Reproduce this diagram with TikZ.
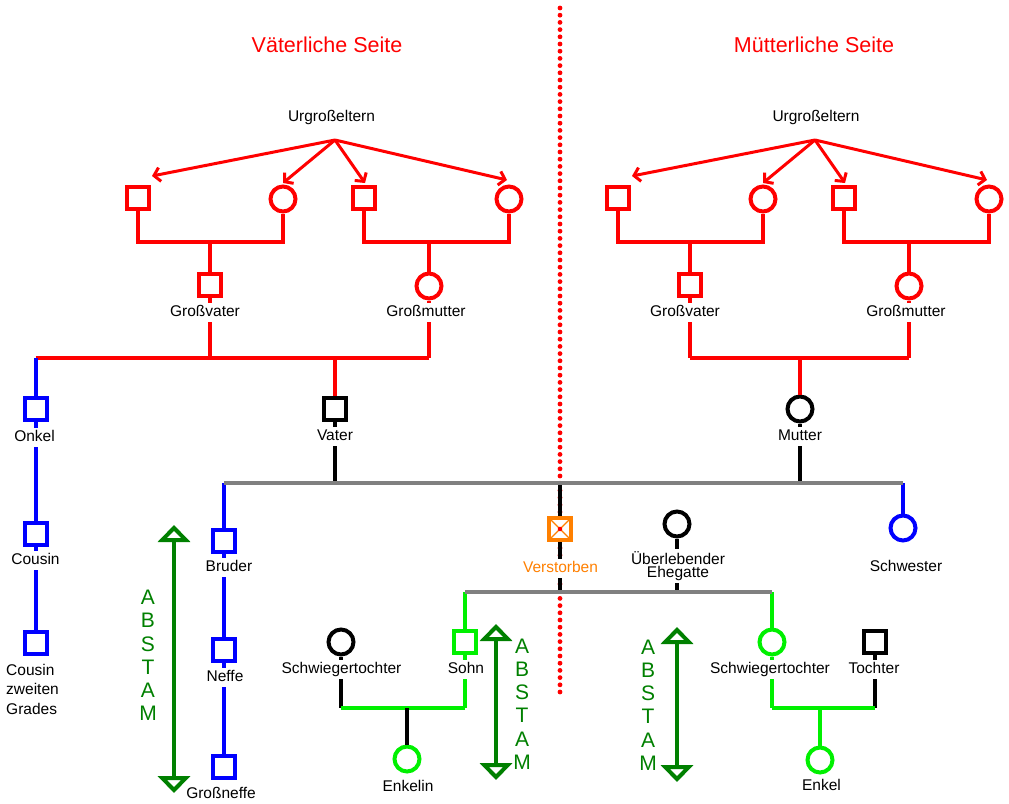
\documentclass[tikz,border=0pt]{standalone}
\usepackage{fontspec}
\setmainfont{Liberation Sans}
\usetikzlibrary{arrows.meta}
\definecolor{pred}{RGB}{255,0,0}
\definecolor{pblue}{RGB}{0,0,255}
\definecolor{pgreen}{RGB}{0,240,0}
\definecolor{dgreen}{RGB}{0,128,0}
\definecolor{porange}{RGB}{255,128,0}
\definecolor{pgray}{RGB}{128,128,128}
\newcommand\lblfont{\fontsize{15.5}{17}\selectfont}
\newcommand\ttlfont{\fontsize{21.5}{24}\selectfont}
\newcommand\abfont{\fontsize{21}{23.2}\selectfont}
\begin{document}
\begin{tikzpicture}[x=1pt,y=-1pt,
  psq/.style={shape=rectangle, line width=4pt, minimum size=22pt, inner sep=0pt, fill=white, draw=#1},
  pci/.style={circle, line width=4pt, minimum size=25pt, inner sep=0pt, fill=white, draw=#1},
  lbl/.style={font=\lblfont, text height=11pt, text depth=3pt, inner sep=2.5pt, fill=white},
  lblm/.style={font=\lblfont, inner sep=2pt, fill=white},
  ttl/.style={font=\ttlfont, text=pred},
  abst/.style={font=\abfont, text=dgreen, align=center, inner sep=0pt},
  conn/.style={line width=4pt},
  parr/.style={line width=3pt, pred, -{Straight Barb[length=6pt,width=14pt]}},
  darr/.style={line width=4pt, dgreen,
     {Triangle[open,length=17pt,width=32pt,line width=4pt]}-{Triangle[open,length=17pt,width=32pt,line width=4pt]}},
  xsq/.style={path picture={\draw[porange, line width=1.3pt]
      (path picture bounding box.north west) -- (path picture bounding box.south east)
      (path picture bounding box.north east) -- (path picture bounding box.south west);}}
]
\useasboundingbox[fill=white] (0,0) rectangle (1009,803);

% dividing dotted line
\coordinate (dtop) at (560,8);
\coordinate (dbot) at (560,695);
\draw[pred, line width=4.8pt, line cap=round, dash pattern=on 0pt off 7.2pt] (dtop) -- (dbot);

% titles
\node[ttl] (tv) at (327,45) {Väterliche Seite};
\node[ttl] (tm) at (814,45) {Mütterliche Seite};

% grandparents' blocks
\foreach \s/\dx/\ux in {L/0/331.5,R/480/816}{
  \node[lbl] (\s ug) at (\ux,117) {Urgroßeltern};
  \coordinate (\s o) at (335+\dx,140);
  \node[psq=pred] (\s u1) at (138+\dx,198) {};
  \node[pci=pred] (\s u2) at (283+\dx,199) {};
  \node[psq=pred] (\s u3) at (364+\dx,198) {};
  \node[pci=pred] (\s u4) at (509+\dx,199) {};
  \coordinate (\s t1) at (152+\dx,176);
  \coordinate (\s t2) at (283+\dx,183);
  \coordinate (\s t3) at (365+\dx,183);
  \coordinate (\s t4) at (507+\dx,180);
  \draw[parr] (\s o) -- (\s t1);
  \draw[parr] (\s o) -- (\s t2);
  \draw[parr] (\s o) -- (\s t3);
  \draw[parr] (\s o) -- (\s t4);
  \coordinate (\s j1) at (210+\dx,242);
  \coordinate (\s j2) at (429+\dx,242);
  \draw[conn,pred] (\s u1) |- (\s j1) -| (\s u2);
  \draw[conn,pred] (\s u3) |- (\s j2) -| (\s u4);
  \node[psq=pred] (\s gv) at (210+\dx,285) {};
  \node[pci=pred] (\s gm) at (429+\dx,286) {};
  \coordinate (\s gvb) at (210+\dx,358);
  \coordinate (\s gmb) at (429+\dx,358);
  \draw[conn,pred] (\s j1) -- (\s gv);
  \draw[conn,pred] (\s gv) -- (\s gvb);
  \draw[conn,pred] (\s j2) -- (\s gm);
  \draw[conn,pred] (\s gm) -- (\s gmb);
  \node[lbl] (\s gvl) at (205+\dx,312) {Großvater};
  \node[lbl] (\s gml) at (426+\dx,312) {Großmutter};
}

% paternal bar
\coordinate (jo) at (35.5,358);
\draw[conn,pred] (jo) -- (Lgmb);
% maternal bar
\draw[conn,pred] (Rgvb) -- (Rgmb);

% uncle line
\node[psq=pblue] (on) at (35.5,409) {};
\node[psq=pblue] (co) at (35.5,534) {};
\node[psq=pblue] (co2) at (35.5,643) {};
\draw[conn,pblue] (jo) -- (on);
\draw[conn,pblue] (on) -- (co);
\draw[conn,pblue] (co) -- (co2);
\node[lbl] (onl) at (34.5,437) {Onkel};
\node[lbl] (col) at (35.5,560) {Cousin};
\node[lblm, align=left, font=\fontsize{15.5}{19.5}\selectfont] (co2l) at (32.5,689) {Cousin\\zweiten\\Grades};

% father
\coordinate (jva) at (335,358);
\node[psq=black] (va) at (335,409) {};
\coordinate (jvb) at (335,483);
\draw[conn,pred] (jva) -- (va);
\draw[conn] (va) -- (jvb);
\node[lbl] (val) at (335,436) {Vater};

% mother
\coordinate (jma) at (800,358);
\node[pci=black] (mu) at (800,409) {};
\coordinate (jmb) at (800,483);
\draw[conn,pred] (jma) -- (mu);
\draw[conn] (mu) -- (jmb);
\node[lbl] (mul) at (800,436) {Mutter};

% siblings bar
\coordinate (jbr) at (224,483);
\coordinate (jsw) at (903,483);
\coordinate (jvs) at (560,483);

% brother line
\node[psq=pblue] (br) at (224,541) {};
\node[psq=pblue] (ne) at (224,650) {};
\node[psq=pblue] (gn) at (224,767) {};
\draw[conn,pblue] (jbr) -- (br);
\draw[conn,pblue] (br) -- (ne);
\draw[conn,pblue] (ne) -- (gn);
\node[lbl] (brl) at (229,567) {Bruder};
\node[lbl] (nel) at (225,677) {Neffe};
\node[lbl] (gnl) at (221,794) {Großneffe};

% sister
\node[pci=pblue] (sw) at (903,528) {};
\draw[conn,pblue] (jsw) -- (sw);
\node[lbl] (swl) at (906,567) {Schwester};

% deceased
\node[psq=porange,xsq] (vs) at (560,529) {};
\fill[pred] (vs.center) circle (2.3pt);
\coordinate (jvs2) at (560,592);
\draw[conn] (jvs) -- (vs);
\draw[conn] (vs) -- (jvs2);
\node[lbl,text=porange] (vsl) at (560.5,568) {Verstorben};

% surviving spouse
\node[pci=black] (ue) at (677,524) {};
\coordinate (jue) at (677,592);
\draw[conn] (ue) -- (jue);
\node[lblm, align=center, font=\fontsize{15.5}{13.5}\selectfont] (uel) at (678,566) {Überlebender\\Ehegatte};

\draw[conn,pgray] (jbr) -- (jsw);

% children bar
\coordinate (js) at (465,592);
\coordinate (jt) at (772,592);

% son
\node[psq=pgreen] (so) at (465,642) {};
\coordinate (jsb) at (465,708);
\draw[conn,pgreen] (js) -- (so);
\draw[conn,pgreen] (so) -- (jsb);

% daughter-in-law (left)
\node[pci=black] (st) at (341,642) {};
\coordinate (jsl) at (341,708);
\draw[conn] (st) -- (jsl);
\draw[conn,pgreen] (jsl) -- (jsb);

% granddaughter
\coordinate (jek) at (407,708);
\node[pci=pgreen] (ek) at (407,759) {};
\draw[conn] (jek) -- (ek);

% daughter-in-law (right)
\node[pci=pgreen] (sr) at (772,642) {};
\coordinate (jsr) at (772,708);
\draw[conn,pgreen] (jt) -- (sr);
\draw[conn,pgreen] (sr) -- (jsr);

% daughter
\node[psq=black] (to) at (875,642) {};
\coordinate (jtb) at (875,708);
\draw[conn] (to) -- (jtb);
\draw[conn,pgreen] (jsr) -- (jtb);

% grandson
\coordinate (jen) at (820,708);
\node[pci=pgreen] (en) at (820,760) {};
\draw[conn,pgreen] (jen) -- (en);

\draw[conn,pgray] (js) -- (jt);

% labels of the lower generation
\node[lbl] (sol) at (466,669) {Sohn};
\node[lbl] (stl) at (341.5,669) {Schwiegertochter};
\node[lbl] (ekl) at (408,787) {Enkelin};
\node[lbl] (srl) at (770,669) {Schwiegertochter};
\node[lbl] (tol) at (874,669) {Tochter};
\node[lbl] (enl) at (821.5,786) {Enkel};

% descent arrows
\coordinate (a1t) at (174,525);
\coordinate (a1b) at (174,793);
\draw[darr] (a1t) -- (a1b);
\node[abst] (a1) at (148,655.5) {A\\B\\S\\T\\A\\M};
\coordinate (a2t) at (496,624);
\coordinate (a2b) at (496,780);
\draw[darr] (a2t) -- (a2b);
\node[abst] (a2) at (522,704) {A\\B\\S\\T\\A\\M};
\coordinate (a3t) at (677,627);
\coordinate (a3b) at (677,782);
\draw[darr] (a3t) -- (a3b);
\node[abst] (a3) at (648,705) {A\\B\\S\\T\\A\\M};
\end{tikzpicture}
\end{document}
